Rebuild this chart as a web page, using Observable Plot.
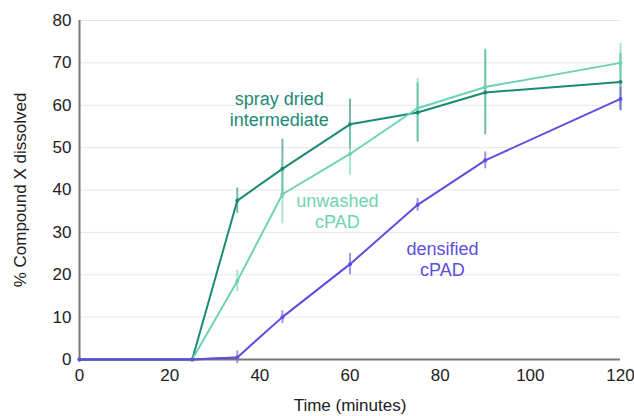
<!DOCTYPE html>
<html>
<head>
<meta charset="utf-8">
<script src="https://cdn.jsdelivr.net/npm/d3@7"></script>
<script src="https://cdn.jsdelivr.net/npm/@observablehq/plot@0.6"></script>
<style>
  html, body { margin: 0; padding: 0; background: #fff; overflow: hidden; }
  svg { font-family: "Liberation Sans", Arial, sans-serif; overflow: visible; }
</style>
</head>
<body>
<div id="chart"></div>
<script>
const times = [0, 25, 35, 45, 60, 75, 90, 120];
const seriesNames = ["spray dried intermediate", "unwashed cPAD", "densified cPAD"];
const sprayDried = [0, 0, 37.5, 45, 55.5, 58.3, 63, 65.5];
const sprayDriedErr = [0, 0, 3, 7, 6, 7, 10, 6.7];
const unwashed = [0, 0, 18.5, 39, 48.5, 59.3, 64.3, 70];
const unwashedErr = [0, 0, 2.5, 7, 5, 7, 9, 4.6];
const densified = [0, 0, 0.5, 10, 22.5, 36.5, 47, 61.5];
const densifiedErr = [0, 0, 1.5, 1.5, 2.5, 1.5, 2, 2.8];
const colors = ["#1b8a74", "#6fd3b2", "#5b4ee0"];
const xTicks = [0, 20, 40, 60, 80, 100, 120];
const yTicks = [0, 10, 20, 30, 40, 50, 60, 70, 80];
const labelText = ["spray dried\nintermediate", "unwashed\ncPAD", "densified\ncPAD"];
const labelTime = [44.3, 57.2, 80.5];
const labelValue = [59.1, 35, 23.7];

const values = [sprayDried, unwashed, densified];
const errs = [sprayDriedErr, unwashedErr, densifiedErr];
const rows = [];
seriesNames.forEach((s, i) => times.forEach((t, j) => rows.push({
  series: s, time: t, value: values[i][j], err: errs[i][j]
})));
const errRows = rows.filter(d => d.err > 0);
const labels = seriesNames.map((s, i) => ({series: s, text: labelText[i], time: labelTime[i], value: labelValue[i]}));

const chart = Plot.plot({
  width: 634,
  height: 416,
  marginLeft: 79,
  marginRight: 14,
  marginTop: 20,
  marginBottom: 57,
  style: {fontSize: "17px", fontFamily: "Liberation Sans, Arial, sans-serif", color: "#222", overflow: "visible"},
  x: {domain: [0, 120], ticks: xTicks, tickSize: 0, tickPadding: 9, label: "Time (minutes)", labelArrow: "none", labelAnchor: "center", labelOffset: 51},
  y: {domain: [0, 80], ticks: yTicks, tickSize: 0, tickPadding: 8, label: "% Compound X dissolved", labelArrow: "none", labelAnchor: "center", labelOffset: 66, grid: false},
  color: {domain: seriesNames, range: colors},
  marks: [
    Plot.gridY(yTicks, {stroke: "#e6e6e6", strokeOpacity: 1}),
    Plot.ruleX(errRows, {x: "time", y1: d => d.value - d.err, y2: d => d.value + d.err, stroke: "series", strokeWidth: 2, strokeOpacity: 0.6}),
    Plot.line(rows, {x: "time", y: "value", z: "series", stroke: "series", strokeWidth: 2}),
    Plot.dot(rows, {x: "time", y: "value", fill: "series", r: 2}),
    Plot.ruleY([0], {stroke: "#777", strokeWidth: 2}),
    Plot.ruleX([0], {stroke: "#777", strokeWidth: 2}),
    Plot.line(rows.filter(d => d.series === "densified cPAD" && d.time <= 35), {x: "time", y: "value", stroke: colors[2], strokeWidth: 2}),
    Plot.text(labels, {x: "time", y: "value", text: "text", fill: "series", fontSize: 18, lineHeight: 1.17, textAnchor: "middle"})
  ]
});
document.getElementById("chart").appendChild(chart);
</script>
</body>
</html>
